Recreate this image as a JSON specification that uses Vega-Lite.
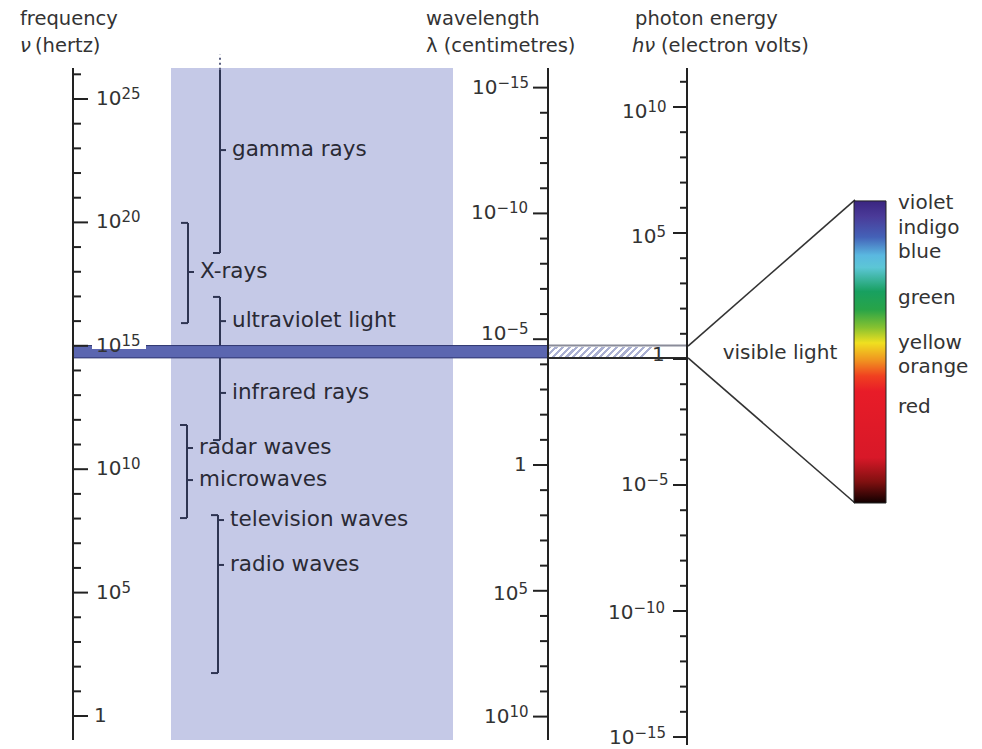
{
  "$schema": "https://vega.github.io/schema/vega-lite/v6.json",
  "width": 982,
  "height": 749,
  "padding": 0,
  "autosize": {"type": "none"},
  "background": "white",
  "config": {"view": {"stroke": null}, "axis": {"disable": true}},
  "datasets": {
    "bands": [
      {"band": "gamma rays", "col": 220, "low": 18.76, "high": 26.18, "topHook": false},
      {"band": "X-rays", "col": 188, "low": 15.92, "high": 19.98, "topHook": true},
      {"band": "ultraviolet light / infrared rays", "col": 220, "low": 11.18, "high": 16.98, "topHook": true},
      {"band": "radar waves / microwaves", "col": 187, "low": 8.02, "high": 11.79, "topHook": true},
      {"band": "television waves / radio waves", "col": 218, "low": 1.74, "high": 8.14, "topHook": true}
    ],
    "labels": [
      {"label": "gamma rays", "col": 220, "lf": 22.93},
      {"label": "X-rays", "col": 188, "lf": 17.99},
      {"label": "ultraviolet light", "col": 220, "lf": 16.0},
      {"label": "infrared rays", "col": 220, "lf": 13.09},
      {"label": "radar waves", "col": 187, "lf": 10.86},
      {"label": "microwaves", "col": 187, "lf": 9.56},
      {"label": "television waves", "col": 218, "lf": 7.94},
      {"label": "radio waves", "col": 218, "lf": 6.12}
    ],
    "scales": [
      {"axis": "frequency", "col": 73, "low": -0.97, "high": 26.26},
      {"axis": "wavelength", "col": 548, "low": -0.97, "high": 26.26},
      {"axis": "energy", "col": 687, "low": -1.175, "high": 26.26}
    ],
    "ticks": [
      {"axis": "frequency", "exp": 0, "lf": 0}, {"axis": "frequency", "exp": 1, "lf": 1}, {"axis": "frequency", "exp": 2, "lf": 2},
      {"axis": "frequency", "exp": 3, "lf": 3}, {"axis": "frequency", "exp": 4, "lf": 4}, {"axis": "frequency", "exp": 5, "lf": 5},
      {"axis": "frequency", "exp": 6, "lf": 6}, {"axis": "frequency", "exp": 7, "lf": 7}, {"axis": "frequency", "exp": 8, "lf": 8},
      {"axis": "frequency", "exp": 9, "lf": 9}, {"axis": "frequency", "exp": 10, "lf": 10}, {"axis": "frequency", "exp": 11, "lf": 11},
      {"axis": "frequency", "exp": 12, "lf": 12}, {"axis": "frequency", "exp": 13, "lf": 13}, {"axis": "frequency", "exp": 14, "lf": 14},
      {"axis": "frequency", "exp": 15, "lf": 15}, {"axis": "frequency", "exp": 16, "lf": 16}, {"axis": "frequency", "exp": 17, "lf": 17},
      {"axis": "frequency", "exp": 18, "lf": 18}, {"axis": "frequency", "exp": 19, "lf": 19}, {"axis": "frequency", "exp": 20, "lf": 20},
      {"axis": "frequency", "exp": 21, "lf": 21}, {"axis": "frequency", "exp": 22, "lf": 22}, {"axis": "frequency", "exp": 23, "lf": 23},
      {"axis": "frequency", "exp": 24, "lf": 24}, {"axis": "frequency", "exp": 25, "lf": 25}, {"axis": "frequency", "exp": 26, "lf": 26},
      {"axis": "wavelength", "exp": -15, "lf": 25.461}, {"axis": "wavelength", "exp": -14, "lf": 24.442}, {"axis": "wavelength", "exp": -13, "lf": 23.422},
      {"axis": "wavelength", "exp": -12, "lf": 22.403}, {"axis": "wavelength", "exp": -11, "lf": 21.383}, {"axis": "wavelength", "exp": -10, "lf": 20.364},
      {"axis": "wavelength", "exp": -9, "lf": 19.345}, {"axis": "wavelength", "exp": -8, "lf": 18.325}, {"axis": "wavelength", "exp": -7, "lf": 17.306},
      {"axis": "wavelength", "exp": -6, "lf": 16.286}, {"axis": "wavelength", "exp": -5, "lf": 15.267}, {"axis": "wavelength", "exp": -4, "lf": 14.248},
      {"axis": "wavelength", "exp": -3, "lf": 13.228}, {"axis": "wavelength", "exp": -2, "lf": 12.209}, {"axis": "wavelength", "exp": -1, "lf": 11.189},
      {"axis": "wavelength", "exp": 0, "lf": 10.17}, {"axis": "wavelength", "exp": 1, "lf": 9.151}, {"axis": "wavelength", "exp": 2, "lf": 8.131},
      {"axis": "wavelength", "exp": 3, "lf": 7.112}, {"axis": "wavelength", "exp": 4, "lf": 6.092}, {"axis": "wavelength", "exp": 5, "lf": 5.073},
      {"axis": "wavelength", "exp": 6, "lf": 4.054}, {"axis": "wavelength", "exp": 7, "lf": 3.034}, {"axis": "wavelength", "exp": 8, "lf": 2.015},
      {"axis": "wavelength", "exp": 9, "lf": 0.995}, {"axis": "wavelength", "exp": 10, "lf": -0.024},
      {"axis": "energy", "exp": 11, "lf": 25.697}, {"axis": "energy", "exp": 10, "lf": 24.676}, {"axis": "energy", "exp": 9, "lf": 23.655},
      {"axis": "energy", "exp": 8, "lf": 22.634}, {"axis": "energy", "exp": 7, "lf": 21.613}, {"axis": "energy", "exp": 6, "lf": 20.592},
      {"axis": "energy", "exp": 5, "lf": 19.571}, {"axis": "energy", "exp": 4, "lf": 18.549}, {"axis": "energy", "exp": 3, "lf": 17.528},
      {"axis": "energy", "exp": 2, "lf": 16.507}, {"axis": "energy", "exp": 1, "lf": 15.486}, {"axis": "energy", "exp": 0, "lf": 14.465},
      {"axis": "energy", "exp": -1, "lf": 13.444}, {"axis": "energy", "exp": -2, "lf": 12.423}, {"axis": "energy", "exp": -3, "lf": 11.402},
      {"axis": "energy", "exp": -4, "lf": 10.381}, {"axis": "energy", "exp": -5, "lf": 9.36}, {"axis": "energy", "exp": -6, "lf": 8.338},
      {"axis": "energy", "exp": -7, "lf": 7.317}, {"axis": "energy", "exp": -8, "lf": 6.296}, {"axis": "energy", "exp": -9, "lf": 5.275},
      {"axis": "energy", "exp": -10, "lf": 4.254}, {"axis": "energy", "exp": -11, "lf": 3.233}, {"axis": "energy", "exp": -12, "lf": 2.212},
      {"axis": "energy", "exp": -13, "lf": 1.191}, {"axis": "energy", "exp": -14, "lf": 0.17}, {"axis": "energy", "exp": -15, "lf": -0.852}
    ],
    "tickLabels": [
      {"axis": "frequency", "base": "10", "exponent": "25", "lf": 25, "col": 96},
      {"axis": "frequency", "base": "10", "exponent": "20", "lf": 20, "col": 96},
      {"axis": "frequency", "base": "10", "exponent": "15", "lf": 15, "col": 96},
      {"axis": "frequency", "base": "10", "exponent": "10", "lf": 10, "col": 96},
      {"axis": "frequency", "base": "10", "exponent": "5", "lf": 5, "col": 96},
      {"axis": "frequency", "base": "1", "exponent": "", "lf": 0, "col": 94},
      {"axis": "wavelength", "base": "10", "exponent": "−15", "lf": 25.461, "col": 472},
      {"axis": "wavelength", "base": "10", "exponent": "−10", "lf": 20.364, "col": 471},
      {"axis": "wavelength", "base": "10", "exponent": "−5", "lf": 15.48, "col": 481},
      {"axis": "wavelength", "base": "1", "exponent": "", "lf": 10.17, "col": 514},
      {"axis": "wavelength", "base": "10", "exponent": "5", "lf": 4.95, "col": 493},
      {"axis": "wavelength", "base": "10", "exponent": "10", "lf": -0.024, "col": 484},
      {"axis": "energy", "base": "10", "exponent": "10", "lf": 24.47, "col": 622},
      {"axis": "energy", "base": "10", "exponent": "5", "lf": 19.41, "col": 631},
      {"axis": "energy", "base": "1", "exponent": "", "lf": 14.63, "col": 652},
      {"axis": "energy", "base": "10", "exponent": "−5", "lf": 9.36, "col": 621},
      {"axis": "energy", "base": "10", "exponent": "−10", "lf": 4.17, "col": 608},
      {"axis": "energy", "base": "10", "exponent": "−15", "lf": -0.89, "col": 609}
    ],
    "headings": [
      {"text": "frequency", "col": 20, "lf": 28.0},
      {"text": "(hertz)", "col": 35, "lf": 26.9},
      {"text": "wavelength", "col": 426, "lf": 28.0},
      {"text": "λ (centimetres)", "col": 426, "lf": 26.9},
      {"text": "photon energy", "col": 635, "lf": 28.0},
      {"text": "(electron volts)", "col": 661, "lf": 26.9}
    ],
    "symbols": [
      {"text": "ν", "col": 20, "lf": 26.9},
      {"text": "hν", "col": 632, "lf": 26.9}
    ],
    "colours": [
      {"colour": "violet", "lf": 20.79},
      {"colour": "indigo", "lf": 19.77},
      {"colour": "blue", "lf": 18.8},
      {"colour": "green", "lf": 16.94},
      {"colour": "yellow", "lf": 15.11},
      {"colour": "orange", "lf": 14.14},
      {"colour": "red", "lf": 12.52}
    ]
  },
  "layer": [
    {
      "data": {"values": [{"region": "highlight", "left": 171, "right": 453, "low": -0.97, "high": 26.26}]},
      "mark": {"type": "rect", "fill": "#c5c9e7"},
      "encoding": {
        "x": {"field": "left", "type": "quantitative", "scale": {"domain": [0, 982], "nice": false, "zero": false}},
        "x2": {"field": "right"},
        "y": {"field": "low", "type": "quantitative", "scale": {"domain": [-1.337, 29.011], "nice": false, "zero": false}},
        "y2": {"field": "high"}
      }
    },
    {
      "data": {"values": [{"col": 220, "low": 26.18, "high": 26.8}]},
      "mark": {"type": "rule", "stroke": "#5a5f80", "strokeWidth": 2, "strokeDash": [2, 3]},
      "encoding": {
        "x": {"field": "col", "type": "quantitative"},
        "y": {"field": "low", "type": "quantitative"},
        "y2": {"field": "high"}
      }
    },
    {
      "data": {"name": "bands"},
      "mark": {"type": "rule", "stroke": "#2e3452", "strokeWidth": 2},
      "encoding": {
        "x": {"field": "col", "type": "quantitative"},
        "y": {"field": "low", "type": "quantitative"},
        "y2": {"field": "high"}
      }
    },
    {
      "data": {"name": "bands"},
      "mark": {"type": "rule", "stroke": "#2e3452", "strokeWidth": 2, "x2Offset": -7},
      "encoding": {
        "x": {"field": "col", "type": "quantitative"},
        "x2": {"field": "col"},
        "y": {"field": "low", "type": "quantitative"}
      }
    },
    {
      "data": {"name": "bands"},
      "transform": [{"filter": "datum.topHook"}],
      "mark": {"type": "rule", "stroke": "#2e3452", "strokeWidth": 2, "x2Offset": -7},
      "encoding": {
        "x": {"field": "col", "type": "quantitative"},
        "x2": {"field": "col"},
        "y": {"field": "high", "type": "quantitative"}
      }
    },
    {
      "data": {"name": "labels"},
      "mark": {"type": "rule", "stroke": "#2e3452", "strokeWidth": 2, "x2Offset": 6},
      "encoding": {
        "x": {"field": "col", "type": "quantitative"},
        "x2": {"field": "col"},
        "y": {"field": "lf", "type": "quantitative"}
      }
    },
    {
      "data": {"name": "labels"},
      "mark": {"type": "text", "font": "DejaVu Sans", "fontSize": 21.5, "fill": "#2a2a35", "align": "left", "baseline": "middle", "dx": 12},
      "encoding": {
        "x": {"field": "col", "type": "quantitative"},
        "y": {"field": "lf", "type": "quantitative"},
        "text": {"field": "label"}
      }
    },
    {
      "data": {"values": [{"band": "visible light", "left": 73, "right": 548, "low": 14.51, "high": 15.01}]},
      "mark": {"type": "rect", "fill": "#5b66b0", "stroke": "#2f3670", "strokeWidth": 1},
      "encoding": {
        "x": {"field": "left", "type": "quantitative"},
        "x2": {"field": "right"},
        "y": {"field": "low", "type": "quantitative"},
        "y2": {"field": "high"}
      }
    },
    {
      "data": {"values": [{"band": "visible light (wavelength)", "left": 548, "right": 655, "low": 14.55, "high": 14.95}]},
      "mark": {
        "type": "rect",
        "fill": {
          "gradient": "linear", "x1": 0, "y1": 0, "x2": 1, "y2": 0.093,
          "stops": [
            {"offset": 0, "color": "#aab0d2"}, {"offset": 0.03, "color": "#aab0d2"}, {"offset": 0.03, "color": "#ffffff"}, {"offset": 0.0625, "color": "#ffffff"},
            {"offset": 0.0625, "color": "#aab0d2"}, {"offset": 0.0925, "color": "#aab0d2"}, {"offset": 0.0925, "color": "#ffffff"}, {"offset": 0.125, "color": "#ffffff"},
            {"offset": 0.125, "color": "#aab0d2"}, {"offset": 0.155, "color": "#aab0d2"}, {"offset": 0.155, "color": "#ffffff"}, {"offset": 0.1875, "color": "#ffffff"},
            {"offset": 0.1875, "color": "#aab0d2"}, {"offset": 0.2175, "color": "#aab0d2"}, {"offset": 0.2175, "color": "#ffffff"}, {"offset": 0.25, "color": "#ffffff"},
            {"offset": 0.25, "color": "#aab0d2"}, {"offset": 0.28, "color": "#aab0d2"}, {"offset": 0.28, "color": "#ffffff"}, {"offset": 0.3125, "color": "#ffffff"},
            {"offset": 0.3125, "color": "#aab0d2"}, {"offset": 0.3425, "color": "#aab0d2"}, {"offset": 0.3425, "color": "#ffffff"}, {"offset": 0.375, "color": "#ffffff"},
            {"offset": 0.375, "color": "#aab0d2"}, {"offset": 0.405, "color": "#aab0d2"}, {"offset": 0.405, "color": "#ffffff"}, {"offset": 0.4375, "color": "#ffffff"},
            {"offset": 0.4375, "color": "#aab0d2"}, {"offset": 0.4675, "color": "#aab0d2"}, {"offset": 0.4675, "color": "#ffffff"}, {"offset": 0.5, "color": "#ffffff"},
            {"offset": 0.5, "color": "#aab0d2"}, {"offset": 0.53, "color": "#aab0d2"}, {"offset": 0.53, "color": "#ffffff"}, {"offset": 0.5625, "color": "#ffffff"},
            {"offset": 0.5625, "color": "#aab0d2"}, {"offset": 0.5925, "color": "#aab0d2"}, {"offset": 0.5925, "color": "#ffffff"}, {"offset": 0.625, "color": "#ffffff"},
            {"offset": 0.625, "color": "#aab0d2"}, {"offset": 0.655, "color": "#aab0d2"}, {"offset": 0.655, "color": "#ffffff"}, {"offset": 0.6875, "color": "#ffffff"},
            {"offset": 0.6875, "color": "#aab0d2"}, {"offset": 0.7175, "color": "#aab0d2"}, {"offset": 0.7175, "color": "#ffffff"}, {"offset": 0.75, "color": "#ffffff"},
            {"offset": 0.75, "color": "#aab0d2"}, {"offset": 0.78, "color": "#aab0d2"}, {"offset": 0.78, "color": "#ffffff"}, {"offset": 0.8125, "color": "#ffffff"},
            {"offset": 0.8125, "color": "#aab0d2"}, {"offset": 0.8425, "color": "#aab0d2"}, {"offset": 0.8425, "color": "#ffffff"}, {"offset": 0.875, "color": "#ffffff"},
            {"offset": 0.875, "color": "#aab0d2"}, {"offset": 0.905, "color": "#aab0d2"}, {"offset": 0.905, "color": "#ffffff"}, {"offset": 0.9375, "color": "#ffffff"},
            {"offset": 0.9375, "color": "#aab0d2"}, {"offset": 0.9675, "color": "#aab0d2"}, {"offset": 0.9675, "color": "#ffffff"}, {"offset": 1, "color": "#ffffff"}
          ]
        }
      },
      "encoding": {
        "x": {"field": "left", "type": "quantitative"},
        "x2": {"field": "right"},
        "y": {"field": "low", "type": "quantitative"},
        "y2": {"field": "high"}
      }
    },
    {
      "data": {"values": [
        {"edge": "upper", "left": 548, "right": 688, "lf": 15.01},
        {"edge": "lower", "left": 548, "right": 688, "lf": 14.51}
      ]},
      "mark": {"type": "rule", "strokeWidth": 2},
      "encoding": {
        "x": {"field": "left", "type": "quantitative"},
        "x2": {"field": "right"},
        "y": {"field": "lf", "type": "quantitative"},
        "color": {"field": "edge", "type": "nominal", "scale": {"domain": ["upper", "lower"], "range": ["#8a8c99", "#2a2a2a"]}, "legend": null}
      }
    },
    {
      "data": {"values": [{"box": "label backing", "left": 92, "right": 146, "low": 14.87, "high": 15.52}]},
      "mark": {"type": "rect", "fill": "#ffffff"},
      "encoding": {
        "x": {"field": "left", "type": "quantitative"},
        "x2": {"field": "right"},
        "y": {"field": "low", "type": "quantitative"},
        "y2": {"field": "high"}
      }
    },
    {
      "data": {"name": "scales"},
      "mark": {"type": "rule", "stroke": "#222222", "strokeWidth": 2},
      "encoding": {
        "x": {"field": "col", "type": "quantitative"},
        "y": {"field": "low", "type": "quantitative"},
        "y2": {"field": "high"}
      }
    },
    {
      "data": {"name": "ticks"},
      "transform": [{"filter": "datum.axis == 'frequency' && datum.exp % 5 != 0"}],
      "mark": {"type": "rule", "stroke": "#222222", "strokeWidth": 2},
      "encoding": {"x": {"datum": 73, "type": "quantitative"}, "x2": {"datum": 81}, "y": {"field": "lf", "type": "quantitative"}}
    },
    {
      "data": {"name": "ticks"},
      "transform": [{"filter": "datum.axis == 'frequency' && datum.exp % 5 == 0"}],
      "mark": {"type": "rule", "stroke": "#222222", "strokeWidth": 2},
      "encoding": {"x": {"datum": 73, "type": "quantitative"}, "x2": {"datum": 88}, "y": {"field": "lf", "type": "quantitative"}}
    },
    {
      "data": {"name": "ticks"},
      "transform": [{"filter": "datum.axis == 'wavelength' && datum.exp % 5 != 0"}],
      "mark": {"type": "rule", "stroke": "#222222", "strokeWidth": 2},
      "encoding": {"x": {"datum": 540, "type": "quantitative"}, "x2": {"datum": 548}, "y": {"field": "lf", "type": "quantitative"}}
    },
    {
      "data": {"name": "ticks"},
      "transform": [{"filter": "datum.axis == 'wavelength' && datum.exp % 5 == 0"}],
      "mark": {"type": "rule", "stroke": "#222222", "strokeWidth": 2},
      "encoding": {"x": {"datum": 533, "type": "quantitative"}, "x2": {"datum": 548}, "y": {"field": "lf", "type": "quantitative"}}
    },
    {
      "data": {"name": "ticks"},
      "transform": [{"filter": "datum.axis == 'energy' && datum.exp % 5 != 0"}],
      "mark": {"type": "rule", "stroke": "#222222", "strokeWidth": 2},
      "encoding": {"x": {"datum": 680, "type": "quantitative"}, "x2": {"datum": 687}, "y": {"field": "lf", "type": "quantitative"}}
    },
    {
      "data": {"name": "ticks"},
      "transform": [{"filter": "datum.axis == 'energy' && datum.exp % 5 == 0"}],
      "mark": {"type": "rule", "stroke": "#222222", "strokeWidth": 2},
      "encoding": {"x": {"datum": 673, "type": "quantitative"}, "x2": {"datum": 687}, "y": {"field": "lf", "type": "quantitative"}}
    },
    {
      "data": {"name": "tickLabels"},
      "mark": {"type": "text", "font": "DejaVu Sans", "fontSize": 20, "fill": "#333333", "align": "left", "baseline": "middle"},
      "encoding": {"x": {"field": "col", "type": "quantitative"}, "y": {"field": "lf", "type": "quantitative"}, "text": {"field": "base"}}
    },
    {
      "data": {"name": "tickLabels"},
      "transform": [{"filter": "datum.exponent != ''"}],
      "mark": {"type": "text", "font": "DejaVu Sans", "fontSize": 15, "fill": "#333333", "align": "left", "baseline": "middle", "dx": 25.5, "dy": -5},
      "encoding": {"x": {"field": "col", "type": "quantitative"}, "y": {"field": "lf", "type": "quantitative"}, "text": {"field": "exponent"}}
    },
    {
      "data": {"name": "headings"},
      "mark": {"type": "text", "font": "DejaVu Sans", "fontSize": 19.5, "fill": "#333333", "align": "left", "baseline": "alphabetic"},
      "encoding": {"x": {"field": "col", "type": "quantitative"}, "y": {"field": "lf", "type": "quantitative"}, "text": {"field": "text"}}
    },
    {
      "data": {"name": "symbols"},
      "mark": {"type": "text", "font": "DejaVu Sans", "fontSize": 19.5, "fontStyle": "italic", "fill": "#333333", "align": "left", "baseline": "alphabetic"},
      "encoding": {"x": {"field": "col", "type": "quantitative"}, "y": {"field": "lf", "type": "quantitative"}, "text": {"field": "text"}}
    },
    {
      "data": {"values": [
        {"edge": "short-wave side", "left": 688, "right": 855, "from": 14.99, "to": 20.91},
        {"edge": "long-wave side", "left": 688, "right": 855, "from": 14.51, "to": 8.63}
      ]},
      "mark": {"type": "rule", "stroke": "#333333", "strokeWidth": 1.6},
      "encoding": {
        "x": {"field": "left", "type": "quantitative"},
        "x2": {"field": "right"},
        "y": {"field": "from", "type": "quantitative"},
        "y2": {"field": "to"}
      }
    },
    {
      "data": {"values": [{"band": "visible spectrum", "left": 854, "right": 886, "low": 8.63, "high": 20.87}]},
      "mark": {
        "type": "rect",
        "stroke": "#222222",
        "strokeWidth": 1,
        "fill": {
          "gradient": "linear", "x1": 0, "y1": 0, "x2": 0, "y2": 1,
          "stops": [
            {"offset": 0, "color": "#3a2580"},
            {"offset": 0.05, "color": "#4a3a98"},
            {"offset": 0.12, "color": "#4462b8"},
            {"offset": 0.18, "color": "#5ab8e0"},
            {"offset": 0.22, "color": "#5cc6d6"},
            {"offset": 0.3, "color": "#18a060"},
            {"offset": 0.36, "color": "#28a448"},
            {"offset": 0.42, "color": "#88c230"},
            {"offset": 0.47, "color": "#f0e020"},
            {"offset": 0.53, "color": "#f09020"},
            {"offset": 0.58, "color": "#f04020"},
            {"offset": 0.63, "color": "#e81c28"},
            {"offset": 0.85, "color": "#d81828"},
            {"offset": 0.93, "color": "#801010"},
            {"offset": 1, "color": "#100000"}
          ]
        }
      },
      "encoding": {
        "x": {"field": "left", "type": "quantitative"},
        "x2": {"field": "right"},
        "y": {"field": "low", "type": "quantitative"},
        "y2": {"field": "high"}
      }
    },
    {
      "data": {"name": "colours"},
      "mark": {"type": "text", "font": "DejaVu Sans", "fontSize": 20, "fill": "#333333", "align": "left", "baseline": "middle"},
      "encoding": {"x": {"datum": 898, "type": "quantitative"}, "y": {"field": "lf", "type": "quantitative"}, "text": {"field": "colour"}}
    },
    {
      "data": {"values": [{"label": "visible light", "col": 780, "lf": 14.71}]},
      "mark": {"type": "text", "font": "DejaVu Sans", "fontSize": 20, "fill": "#333333", "align": "center", "baseline": "middle"},
      "encoding": {"x": {"field": "col", "type": "quantitative"}, "y": {"field": "lf", "type": "quantitative"}, "text": {"field": "label"}}
    }
  ]
}
